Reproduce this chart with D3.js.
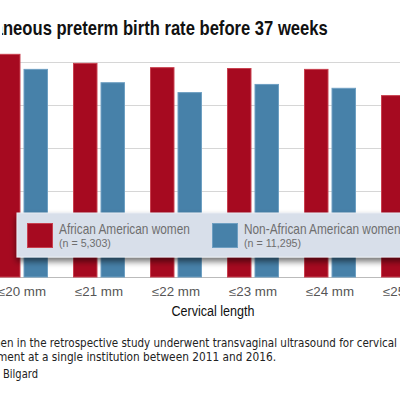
<!DOCTYPE html>
<html><head><meta charset="utf-8">
<script src="https://cdn.jsdelivr.net/npm/d3@7"></script>
<style>html,body{margin:0;padding:0;background:#fff;overflow:hidden}</style>
</head><body>
<svg id="c" width="400" height="400"></svg>
<script>
const categories = ["≤20 mm","≤21 mm","≤22 mm","≤23 mm","≤24 mm","≤25 mm"];
const africanAmerican = [51.9, 49.8, 48.8, 48.6, 48.4, 42.3];
const nonAfricanAmerican = [48.4, 45.3, 43.0, 44.9, 44.0, 40.0];
const yTicks = [0, 10, 20, 30, 40, 50];
const seriesNames = ["African American women", "Non-African American women"];
const seriesN = ["(n = 5,303)", "(n = 11,295)"];

const FONT = "'Liberation Sans',Arial,sans-serif";
const FN_FONT = "'DejaVu Sans',Verdana,sans-serif";
const svg = d3.select("#c");
const colors = ["#a60a20", "#4781a9"];
const strokes = ["#c8404f", "#6e9fc2"];

function measure(str, size, weight, font) {
  const t = svg.append("text").attr("font-family", font || FONT).attr("font-size", size)
    .attr("font-weight", weight || "normal").text(str);
  const w = t.node().getComputedTextLength();
  t.remove();
  return w;
}
// draws text scaled horizontally so that `ref` string spans `target` px
function narrowText(str, x, yy, size, anchor, ref, target, fill, weight, font) {
  const sx = target / measure(ref, size, weight, font);
  return svg.append("text").attr("transform", `translate(${x},${yy}) scale(${sx},1)`)
    .attr("text-anchor", anchor).attr("font-family", font || FONT).attr("font-size", size)
    .attr("font-weight", weight || "normal").attr("fill", fill).text(str);
}

const x0 = d3.scaleBand().domain(categories).range([-16.5, 445.5]).paddingInner(0.325).paddingOuter(0.1625);
const x1 = d3.scaleBand().domain([0,1]).range([0, x0.bandwidth()]).paddingInner(0.11);
const y = d3.scaleLinear().domain([0, 50]).range([277, 62]);

// grid
svg.append("g").selectAll("line").data(yTicks).join("line")
  .attr("x1", 0).attr("x2", 400)
  .attr("y1", d => y(d) + 0.5).attr("y2", d => y(d) + 0.5)
  .attr("stroke", d => d === 0 ? "#bbb" : "#d6d6d6").attr("stroke-width", 1.2);

// bars
const data = categories.map((c, i) => ({c, v: [africanAmerican[i], nonAfricanAmerican[i]]}));
const g = svg.append("g").selectAll("g").data(data).join("g")
  .attr("transform", d => `translate(${x0(d.c)},0)`);
g.selectAll("rect").data(d => d.v.map((v, k) => ({v, k}))).join("rect")
  .attr("x", d => x1(d.k) + 0.5).attr("width", x1.bandwidth() - 1)
  .attr("y", d => y(d.v) + 0.5).attr("height", d => y(0) - y(d.v) - 0.5)
  .attr("fill", d => colors[d.k]).attr("stroke", d => strokes[d.k]).attr("stroke-width", 1);

// legend with shadow
const defs = svg.append("defs");
const f = defs.append("filter").attr("id", "sh").attr("x", "-10%").attr("y", "-20%").attr("width", "130%").attr("height", "160%");
f.append("feGaussianBlur").attr("in", "SourceAlpha").attr("stdDeviation", 3);
f.append("feOffset").attr("dx", 0).attr("dy", 4).attr("result", "ob");
f.append("feComponentTransfer").append("feFuncA").attr("type", "linear").attr("slope", 0.55);
const fm = f.append("feMerge");
fm.append("feMergeNode");
fm.append("feMergeNode").attr("in", "SourceGraphic");
defs.append("clipPath").attr("id", "tclip").append("rect")
  .attr("x", 2).attr("y", 0).attr("width", 398).attr("height", 50);

svg.append("rect").attr("x", 17).attr("y", 213).attr("width", 400).attr("height", 44)
  .attr("fill", "#d8dfea").attr("stroke", "#e8ecf2").attr("filter", "url(#sh)");
const lx = [27, 212];
seriesNames.forEach((s, k) => {
  svg.append("rect").attr("x", lx[k] + 0.5).attr("y", 223.5).attr("width", 25).attr("height", 24)
    .attr("fill", colors[k]).attr("stroke", strokes[k]);
  narrowText(s, lx[k] + 32, 233.5, 14, "start", "African American women", 131, "#6e6e6e");
  narrowText(seriesN[k], lx[k] + 32, 247, 11, "start", "(n = 5,303)", 52, "#6e6e6e");
});

// x axis labels
categories.forEach(c => {
  narrowText(c, x0(c) + x0.bandwidth() / 2, 295.5, 12, "middle", "≤21 mm", 48, "#555");
});

narrowText("Cervical length", 213, 316, 15, "middle", "Cervical length", 83, "#111");

// title: visible part "neous ..." starts at x=3 and ends at x=328
{
  const full = "Spontaneous preterm birth rate before 37 weeks";
  const vis = "neous preterm birth rate before 37 weeks";
  const wFull = measure(full, 20, "bold"), wVis = measure(vis, 20, "bold");
  const sx = 325 / wVis;
  const startX = 328 - wFull * sx;
  svg.append("g").attr("clip-path", "url(#tclip)")
    .append("text").attr("transform", `translate(${startX},35) scale(${sx},1)`)
    .attr("font-family", FONT).attr("font-size", 20).attr("font-weight", "bold")
    .attr("fill", "#111").text(full);
}

// footnotes
narrowText("Note: Women in the retrospective study underwent transvaginal ultrasound for cervical", 397, 347, 12, "end",
  "en in the retrospective study underwent transvaginal ultrasound for cervical", 397, "#222", "normal", FN_FONT);
narrowText("length measurement at a single institution between 2011 and 2016.", 276, 361, 12, "end",
  "nent at a single institution between 2011 and 2016.", 276, "#222", "normal", FN_FONT);
narrowText("Source: Dr. Bilgard", 38, 378, 12, "end", "Bilgard", 35, "#222", "normal", FN_FONT);
</script>
</body></html>
